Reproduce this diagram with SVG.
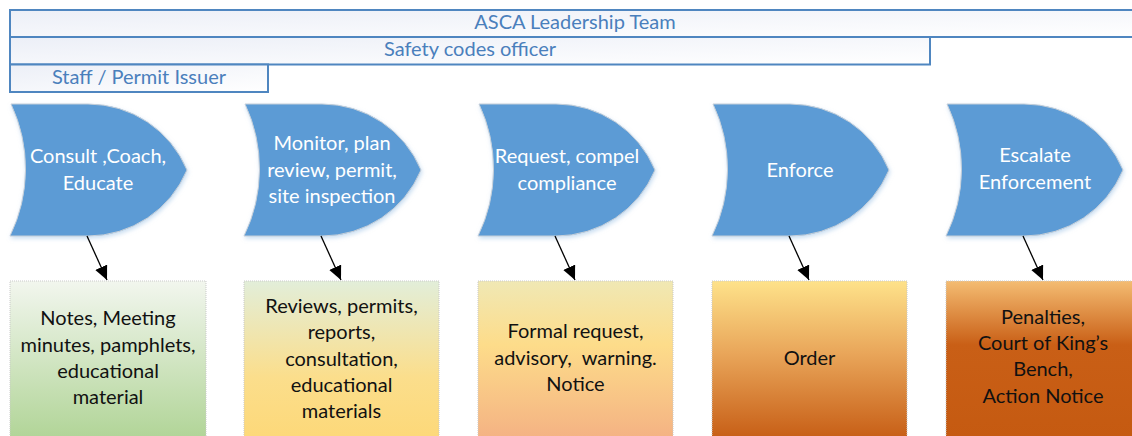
<svg xmlns="http://www.w3.org/2000/svg" width="1132" height="436" viewBox="0 0 1132 436">
  <style>
    .bar { stroke: #4f86c0; stroke-width: 2; fill: url(#barFill); }
    .barText { font-family: Lato, "Open Sans", sans-serif; font-size: 20px; fill: #4a7fbc; text-anchor: middle; }
    .stage { fill: #5b9bd5; stroke: #c6cfd9; stroke-width: 1; filter: url(#soft); }
    .stageText { font-family: Lato, "Open Sans", sans-serif; font-size: 20px; fill: #ffffff; text-anchor: middle; }
    .box { stroke: #c9c9c9; stroke-width: 1; stroke-dasharray: 1 1; }
    .boxText { font-family: Lato, "Open Sans", sans-serif; font-size: 20px; fill: #111111; text-anchor: middle; }
    .link { stroke: #000000; stroke-width: 1.3; fill: none; marker-end: url(#head); }
  </style>
  <defs>
    <linearGradient id="barFill" x1="0" y1="0" x2="1" y2="1">
      <stop offset="0" stop-color="#eceff7"/>
      <stop offset="1" stop-color="#ffffff"/>
    </linearGradient>
    <linearGradient id="g1" x1="0" y1="0" x2="0" y2="1">
      <stop offset="0" stop-color="#f2f6ee"/>
      <stop offset="1" stop-color="#b0d496"/>
    </linearGradient>
    <linearGradient id="g2" x1="0" y1="0" x2="0" y2="1">
      <stop offset="0" stop-color="#e2eed9"/>
      <stop offset="0.6" stop-color="#fbde8c"/>
      <stop offset="1" stop-color="#fdd878"/>
    </linearGradient>
    <linearGradient id="g3" x1="0" y1="0" x2="0" y2="1">
      <stop offset="0" stop-color="#f0e8b4"/>
      <stop offset="0.4" stop-color="#fddc8a"/>
      <stop offset="1" stop-color="#f4b183"/>
    </linearGradient>
    <linearGradient id="g4" x1="0" y1="0" x2="0" y2="1">
      <stop offset="0" stop-color="#fee28a"/>
      <stop offset="0.45" stop-color="#e9a65a"/>
      <stop offset="1" stop-color="#c65c14"/>
    </linearGradient>
    <linearGradient id="g5" x1="0" y1="0" x2="0" y2="1">
      <stop offset="0" stop-color="#f4bc72"/>
      <stop offset="0.4" stop-color="#c95f16"/>
      <stop offset="1" stop-color="#c55a11"/>
    </linearGradient>
    <filter id="soft" x="-10%" y="-10%" width="125%" height="125%">
      <feGaussianBlur in="SourceAlpha" stdDeviation="2"/>
      <feOffset dx="1" dy="2" result="b"/>
      <feFlood flood-color="#9ec3e6" flood-opacity="0.55"/>
      <feComposite in2="b" operator="in"/>
      <feMerge>
        <feMergeNode/>
        <feMergeNode in="SourceGraphic"/>
      </feMerge>
    </filter>
    <marker id="head" markerUnits="userSpaceOnUse" markerWidth="16" markerHeight="14" refX="14" refY="6.5" orient="auto">
      <path d="M0,0 L14,6.5 L0,13 Z" fill="#000000"/>
    </marker>
    <!-- stage outline: concave left edge, pointed arched right edge -->
    <path id="stageShape" d="M1,104 L78,104 A107.25,107.25 0 0 1 177,170 A107.25,107.25 0 0 1 78,236 L0,236 A152.7,152.7 0 0 0 1,104 Z"/>
  </defs>

  <!-- role bars -->
  <g id="bar-leadership">
    <rect class="bar" x="10" y="10" width="1140" height="27"/>
    <text class="barText" x="575" y="29">ASCA Leadership Team</text>
  </g>
  <g id="bar-sco">
    <rect class="bar" x="10" y="37" width="920" height="27.5"/>
    <text class="barText" x="470" y="56">Safety codes officer</text>
  </g>
  <g id="bar-staff">
    <rect class="bar" x="10" y="64.5" width="258" height="27.5"/>
    <text class="barText" x="139" y="84">Staff / Permit Issuer</text>
  </g>

  <!-- stages -->
  <g id="stage-consult">
    <use href="#stageShape" class="stage" x="10"/>
    <text class="stageText" x="98" y="163">Consult ,Coach,</text>
    <text class="stageText" x="98" y="190">Educate</text>
  </g>
  <g id="stage-monitor">
    <use href="#stageShape" class="stage" x="244"/>
    <text class="stageText" x="332" y="150">Monitor, plan</text>
    <text class="stageText" x="332" y="177">review, permit,</text>
    <text class="stageText" x="332" y="203">site inspection</text>
  </g>
  <g id="stage-request">
    <use href="#stageShape" class="stage" x="478"/>
    <text class="stageText" x="567" y="163">Request, compel</text>
    <text class="stageText" x="567" y="190">compliance</text>
  </g>
  <g id="stage-enforce">
    <use href="#stageShape" class="stage" x="712"/>
    <text class="stageText" x="800" y="177">Enforce</text>
  </g>
  <g id="stage-escalate">
    <use href="#stageShape" class="stage" x="946"/>
    <text class="stageText" x="1035" y="162">Escalate</text>
    <text class="stageText" x="1035" y="189">Enforcement</text>
  </g>

  <!-- outputs -->
  <g id="out-notes">
    <rect class="box" x="10" y="281" width="196" height="160" fill="url(#g1)"/>
    <text class="boxText" x="108" y="325">Notes, Meeting</text>
    <text class="boxText" x="108" y="352">minutes, pamphlets,</text>
    <text class="boxText" x="108" y="378">educational</text>
    <text class="boxText" x="108" y="404">material</text>
  </g>
  <g id="out-reviews">
    <rect class="box" x="244" y="281" width="195" height="160" fill="url(#g2)"/>
    <text class="boxText" x="341.5" y="313">Reviews, permits,</text>
    <text class="boxText" x="341.5" y="339">reports,</text>
    <text class="boxText" x="341.5" y="366">consultation,</text>
    <text class="boxText" x="341.5" y="392">educational</text>
    <text class="boxText" x="341.5" y="418">materials</text>
  </g>
  <g id="out-request">
    <rect class="box" x="478" y="281" width="195" height="160" fill="url(#g3)"/>
    <text class="boxText" x="575.5" y="338">Formal request,</text>
    <text class="boxText" x="575.5" y="365" xml:space="preserve">advisory,  warning.</text>
    <text class="boxText" x="575.5" y="391">Notice</text>
  </g>
  <g id="out-order">
    <rect class="box" x="712" y="281" width="195" height="160" fill="url(#g4)"/>
    <text class="boxText" x="809.5" y="365">Order</text>
  </g>
  <g id="out-penalties">
    <rect class="box" x="946" y="281" width="195" height="160" fill="url(#g5)"/>
    <text class="boxText" x="1043" y="324">Penalties,</text>
    <text class="boxText" x="1043" y="350">Court of King’s</text>
    <text class="boxText" x="1043" y="376">Bench,</text>
    <text class="boxText" x="1043" y="403">Action Notice</text>
  </g>

  <!-- connectors -->
  <g id="connectors">
    <line class="link" x1="87" y1="236" x2="107" y2="280"/>
    <line class="link" x1="321" y1="236" x2="341" y2="280"/>
    <line class="link" x1="555" y1="236" x2="575" y2="280"/>
    <line class="link" x1="789" y1="236" x2="809" y2="280"/>
    <line class="link" x1="1023" y1="236" x2="1043" y2="280"/>
  </g>
</svg>
